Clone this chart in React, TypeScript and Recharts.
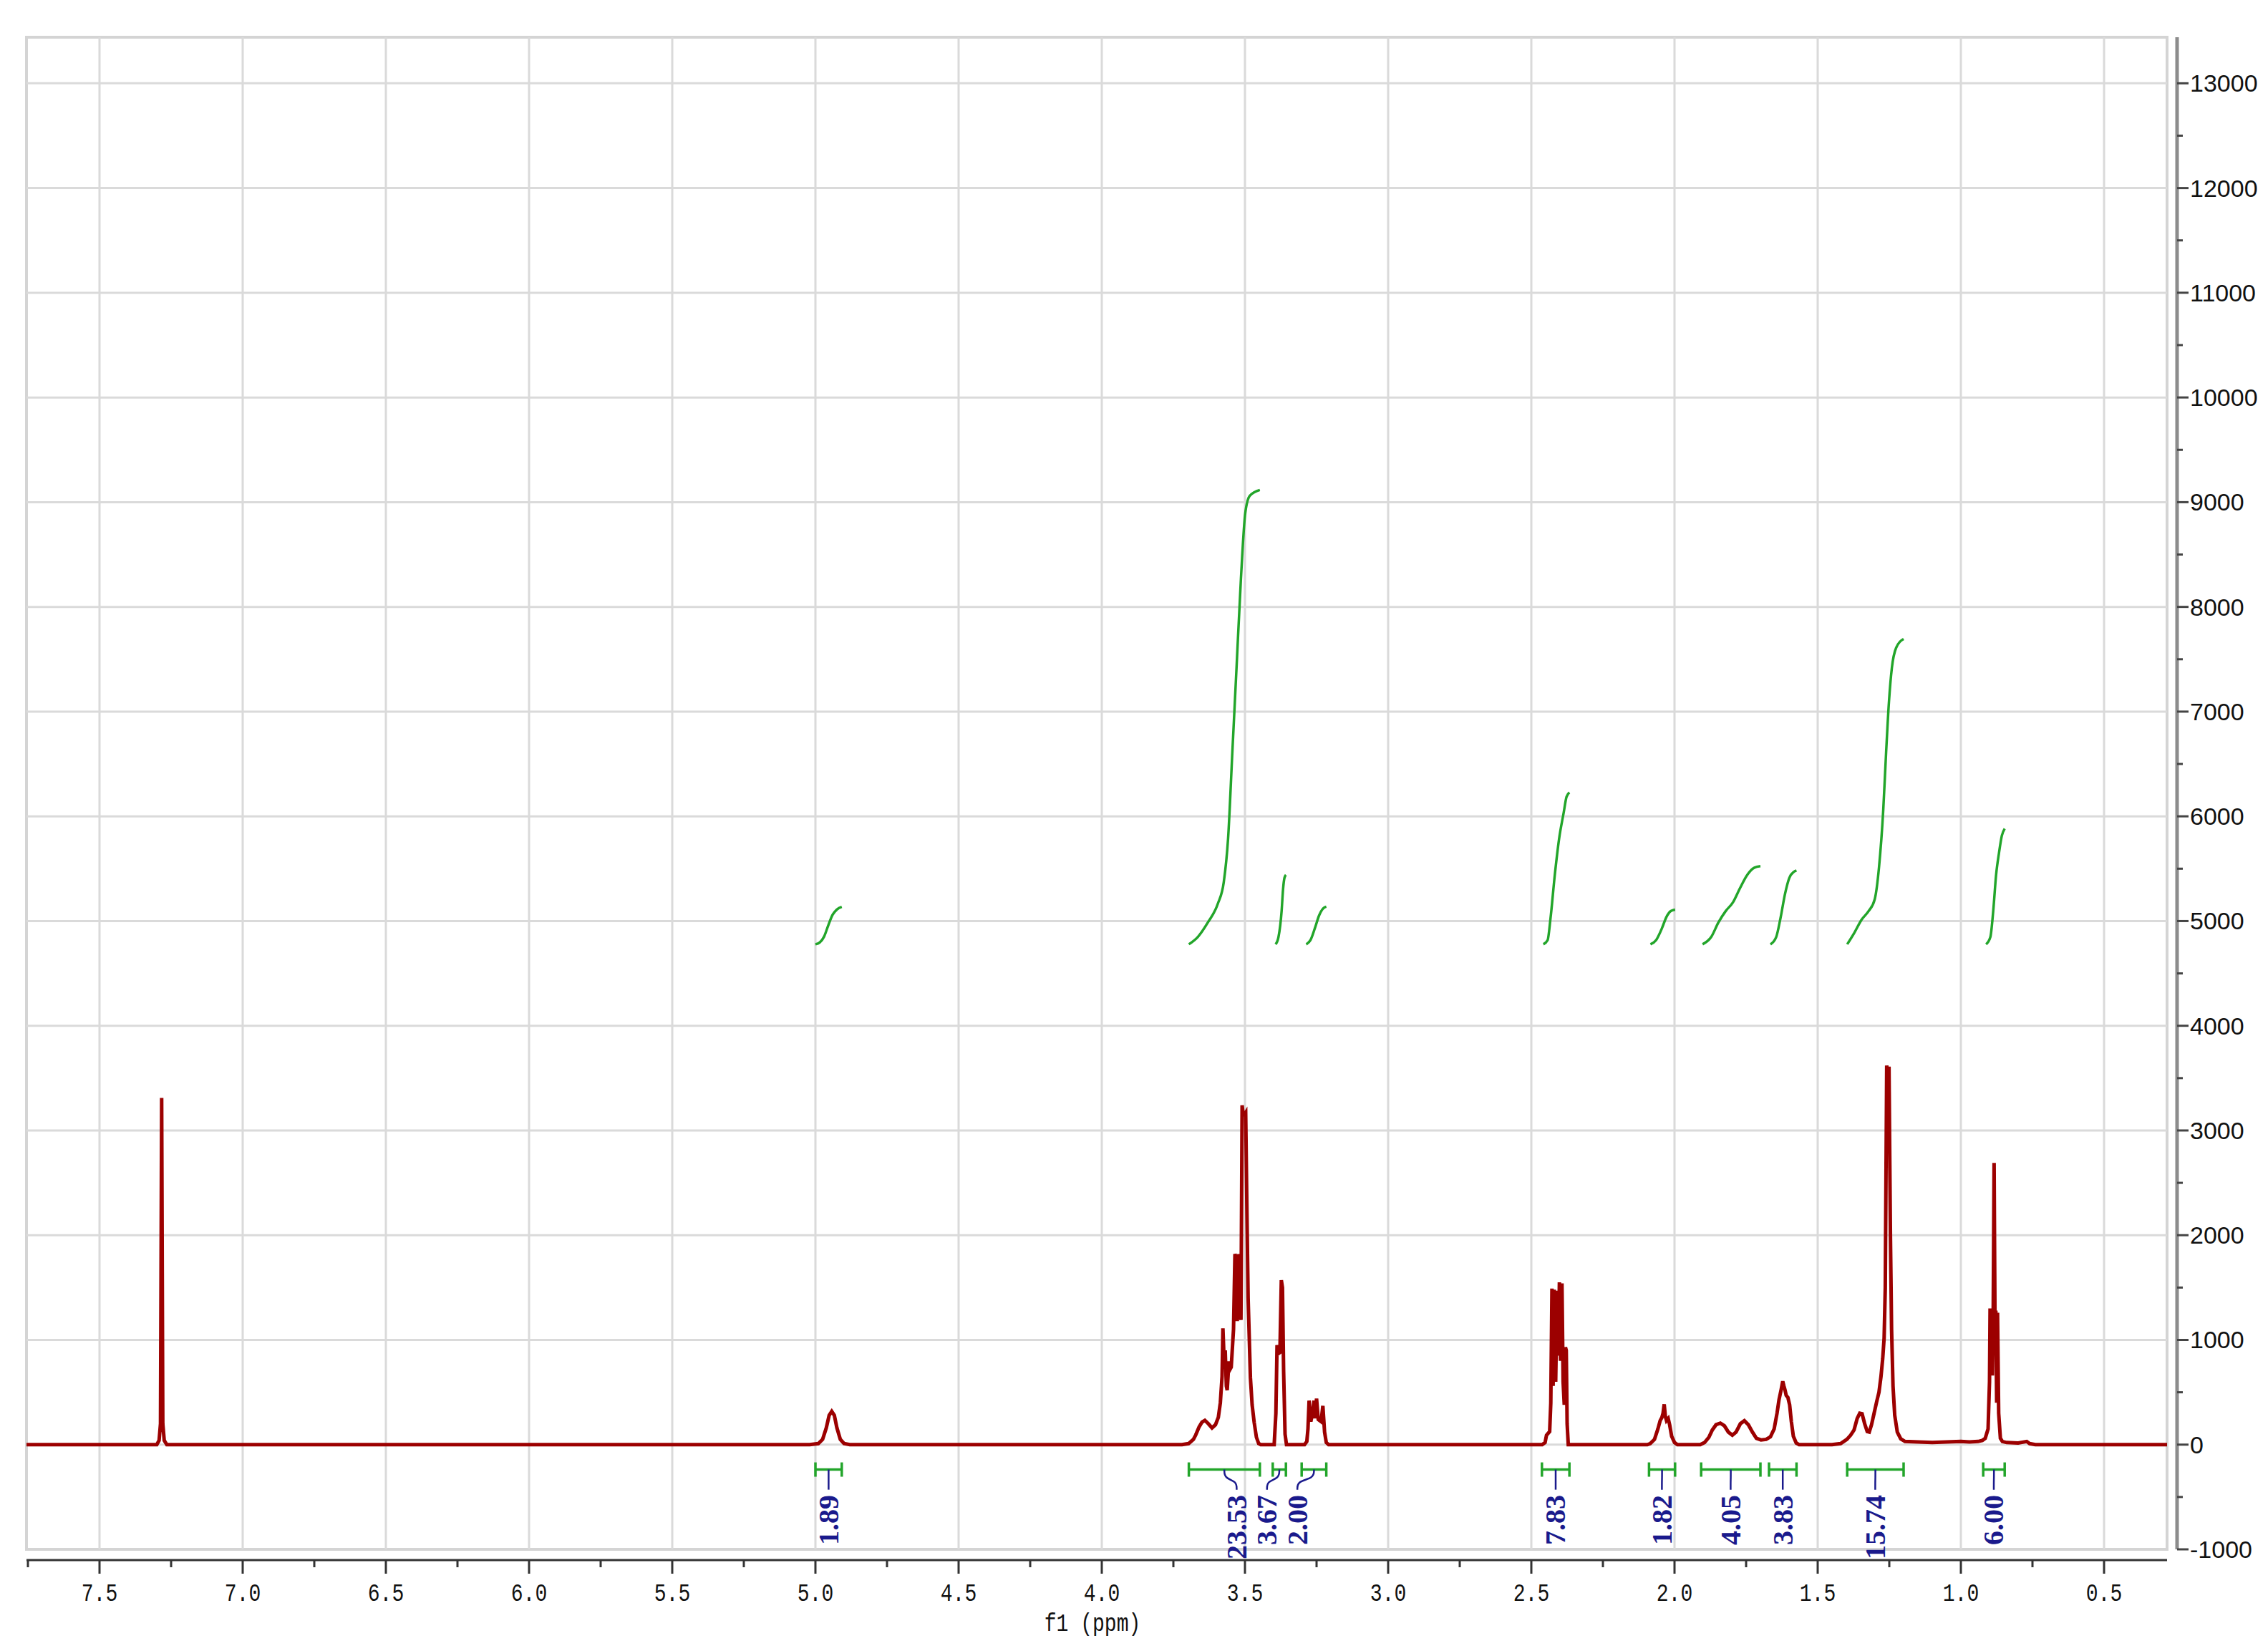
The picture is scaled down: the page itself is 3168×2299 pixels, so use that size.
import React from 'react';
import { ComposedChart, Line, Scatter, XAxis, YAxis, ReferenceLine, ReferenceArea, Label } from 'recharts';

// axes
const X_DOMAIN: [number, number] = [0.28, 7.755];
const Y_DOMAIN: [number, number] = [-1000, 13440];
const X_TICKS = [7.75, 7.5, 7.25, 7.0, 6.75, 6.5, 6.25, 6.0, 5.75, 5.5, 5.25, 5.0, 4.75, 4.5, 4.25, 4.0, 3.75, 3.5, 3.25, 3.0, 2.75, 2.5, 2.25, 2.0, 1.75, 1.5, 1.25, 1.0, 0.75, 0.5];
const X_GRID = [7.5, 7.0, 6.5, 6.0, 5.5, 5.0, 4.5, 4.0, 3.5, 3.0, 2.5, 2.0, 1.5, 1.0, 0.5];
const Y_TICKS = [-1000, -500, 0, 500, 1000, 1500, 2000, 2500, 3000, 3500, 4000, 4500, 5000, 5500, 6000, 6500, 7000, 7500, 8000, 8500, 9000, 9500, 10000, 10500, 11000, 11500, 12000, 12500, 13000];
const Y_GRID = [0, 1000, 2000, 3000, 4000, 5000, 6000, 7000, 8000, 9000, 10000, 11000, 12000, 13000];

// 1H spectrum, [ppm, intensity]
const SPECTRUM = [
  [7.755, 0], [7.3, 0], [7.292, 40], [7.287, 200], [7.283, 3310], [7.279, 200], [7.274, 40], [7.265, 0],
  [5.02, 0], [4.99, 10], [4.975, 50], [4.962, 160], [4.952, 280], [4.943, 317], [4.934, 280], [4.925, 160], [4.913, 50], [4.9, 10], [4.88, 0],
  [3.72, 0], [3.697, 10], [3.68, 50], [3.672, 92], [3.66, 170], [3.65, 215], [3.64, 232], [3.628, 200], [3.615, 160], [3.603, 190], [3.593, 260],
  [3.586, 400], [3.58, 650], [3.577, 1110], [3.573, 820], [3.569, 900], [3.565, 560], [3.562, 520], [3.556, 795], [3.552, 720], [3.548, 740],
  [3.54, 1100], [3.535, 1820], [3.531, 1790], [3.527, 1180], [3.524, 1500], [3.521, 1820], [3.517, 1400], [3.514, 1190], [3.51, 3240],
  [3.506, 3150], [3.502, 3150], [3.4975, 3170], [3.493, 2200], [3.489, 1400], [3.481, 640], [3.475, 380], [3.468, 215], [3.46, 70], [3.452, 10], [3.445, 0],
  [3.398, 0], [3.392, 300], [3.388, 950], [3.383, 870], [3.378, 880], [3.373, 1570], [3.369, 1500], [3.365, 700], [3.36, 100], [3.355, 0],
  [3.292, 0], [3.284, 30], [3.28, 150], [3.276, 420], [3.27, 220], [3.264, 300], [3.259, 420], [3.255, 250], [3.25, 440], [3.244, 240],
  [3.234, 220], [3.228, 370], [3.222, 120], [3.216, 20], [3.208, 0],
  [2.462, 0], [2.452, 20], [2.447, 90], [2.436, 125], [2.432, 400], [2.428, 1490], [2.424, 560], [2.42, 1480], [2.415, 600], [2.41, 1470],
  [2.406, 850], [2.402, 1550], [2.398, 800], [2.393, 1540], [2.389, 600], [2.385, 380], [2.381, 930], [2.378, 900], [2.375, 200], [2.371, 0],
  [2.095, 0], [2.085, 10], [2.07, 50], [2.058, 150], [2.05, 230], [2.044, 260], [2.04, 300], [2.036, 385], [2.032, 270], [2.028, 230],
  [2.022, 250], [2.017, 190], [2.01, 80], [2.0, 20], [1.99, 0],
  [1.91, 0], [1.895, 20], [1.88, 70], [1.868, 140], [1.855, 190], [1.84, 205], [1.826, 180], [1.812, 120], [1.798, 90], [1.785, 120],
  [1.77, 200], [1.756, 228], [1.742, 190], [1.728, 120], [1.714, 60], [1.698, 45], [1.68, 50], [1.665, 75], [1.652, 150], [1.642, 300],
  [1.635, 430], [1.628, 520], [1.622, 605], [1.618, 560], [1.614, 520], [1.61, 470], [1.604, 450], [1.598, 380], [1.592, 220], [1.585, 80],
  [1.575, 15], [1.565, 0],
  [1.45, 0], [1.42, 10], [1.398, 50], [1.385, 90], [1.373, 140], [1.362, 250], [1.353, 300], [1.345, 295], [1.336, 200], [1.327, 125],
  [1.32, 120], [1.312, 190], [1.303, 300], [1.294, 410], [1.286, 500], [1.279, 650], [1.273, 820], [1.268, 1020], [1.264, 1500], [1.259, 3620],
  [1.255, 3480], [1.251, 3610], [1.246, 2000], [1.242, 1100], [1.237, 560], [1.231, 280], [1.222, 120], [1.21, 55], [1.195, 30], [1.15, 25],
  [1.1, 20], [1.05, 25], [1.0, 30], [0.97, 25], [0.94, 30], [0.925, 40],
  [0.915, 60], [0.905, 150], [0.9, 600], [0.898, 1300], [0.895, 700], [0.893, 1290], [0.89, 660], [0.887, 1300], [0.884, 2690], [0.881, 1250],
  [0.878, 1280], [0.875, 400], [0.872, 1260], [0.868, 300], [0.862, 60], [0.855, 30], [0.84, 20], [0.8, 15], [0.77, 30], [0.76, 10], [0.74, 0], [0.28, 0],
];

// integral curves (green), [ppm, height]
const INTEGRAL_CURVES = [
  [[5.0, 4778], [4.985, 4795], [4.97, 4850], [4.955, 4960], [4.94, 5060], [4.925, 5110], [4.908, 5135]],
  [[3.696, 4778], [3.665, 4847], [3.63, 4985], [3.595, 5164], [3.574, 5372], [3.559, 5786], [3.544, 6615], [3.529, 7444], [3.514, 8273], [3.499, 8895], [3.483, 9061], [3.448, 9116]],
  [[3.393, 4778], [3.383, 4847], [3.372, 5096], [3.367, 5303], [3.362, 5413], [3.357, 5441]],
  [[3.286, 4778], [3.271, 4819], [3.256, 4930], [3.241, 5054], [3.226, 5123], [3.216, 5137]],
  [[2.458, 4778], [2.443, 4819], [2.433, 5026], [2.418, 5441], [2.403, 5786], [2.387, 6035], [2.377, 6187], [2.367, 6228]],
  [[2.084, 4778], [2.064, 4819], [2.044, 4930], [2.028, 5040], [2.013, 5095], [1.998, 5109]],
  [[1.902, 4778], [1.872, 4847], [1.847, 4985], [1.821, 5096], [1.796, 5178], [1.771, 5316], [1.746, 5441], [1.721, 5510], [1.7, 5524]],
  [[1.665, 4778], [1.645, 4847], [1.63, 5026], [1.614, 5261], [1.599, 5413], [1.584, 5468], [1.574, 5482]],
  [[1.397, 4778], [1.372, 4888], [1.347, 5012], [1.322, 5096], [1.301, 5206], [1.286, 5510], [1.271, 6063], [1.261, 6615], [1.251, 7099], [1.241, 7417], [1.226, 7610], [1.2, 7693]],
  [[0.912, 4778], [0.897, 4847], [0.887, 5096], [0.877, 5441], [0.867, 5648], [0.857, 5814], [0.847, 5883]],
];

// integration ranges, values and label positions
const INTEGRAL_RANGES = [[5.0, 4.908], [3.696, 3.448], [3.403, 3.357], [3.302, 3.216], [2.463, 2.367], [2.089, 1.998], [1.907, 1.7], [1.67, 1.574], [1.397, 1.2], [0.922, 0.847]];
const INTEGRAL_VALUES = ['1.89', '23.53', '3.67', '2.00', '7.83', '1.82', '4.05', '3.83', '15.74', '6.00'];
const LABEL_PPM = [4.954, 3.529, 3.423, 3.317, 2.415, 2.044, 1.804, 1.622, 1.299, 0.885];
const BRACKET_Y = -238;
const CONNECT_END_Y = -430;
const LABEL_Y = -480;

const SPEC_COLOR = '#9c0000';
const INT_COLOR = '#22a52a';
const LABEL_COLOR = '#1a1a8c';
const GRID_COLOR = '#dadada';

const spectrumData = SPECTRUM.map(([x, y]) => ({ x, y }));
const curveData = INTEGRAL_CURVES.map((c) => c.map(([x, y]) => ({ x, y })));
const bracketData = INTEGRAL_RANGES.map(([a, b]) => [{ x: a, y: BRACKET_Y }, { x: b, y: BRACKET_Y }]);
const connectorData = INTEGRAL_RANGES.map(([a, b], i) => {
  const c = (a + b) / 2;
  const l = LABEL_PPM[i];
  return [{ x: c, y: BRACKET_Y }, { x: c, y: -320 }, { x: l, y: -350 }, { x: l, y: CONNECT_END_Y }];
});
const labelData = LABEL_PPM.map((x, i) => ({ x, y: LABEL_Y, text: INTEGRAL_VALUES[i] }));

const MONO = "'Liberation Mono', monospace";

const XTick = (props: any) => {
  const { x, y, payload } = props;
  const v = payload.value;
  const major = Math.abs(v * 2 - Math.round(v * 2)) < 1e-6;
  return (
    <g>
      <line x1={x} x2={x} y1={y + 15} y2={y + (major ? 34 : 25)} stroke="#333" strokeWidth={3} />
      {major && (
        <text transform={`translate(${x} ${y + 63}) scale(0.78 1)`} x={0} y={0} textAnchor="middle" dominantBaseline="central"
          fontFamily={MONO} fontSize={36} fill="#111">
          {v.toFixed(1)}
        </text>
      )}
    </g>
  );
};

const YTick = (props: any) => {
  const { x, y, payload } = props;
  const v = payload.value;
  const major = v % 1000 === 0;
  return (
    <g>
      <line x1={x + 14} x2={x + (major ? 30 : 22)} y1={y} y2={y} stroke="#444" strokeWidth={3} />
      {major && (
        <text x={x + 32} y={y} dominantBaseline="central"
          fontFamily="'Liberation Sans', sans-serif" fontSize={34} fill="#111">
          {v}
        </text>
      )}
    </g>
  );
};

const Cap = (props: any) => {
  const { cx, cy, index } = props;
  return <line key={`cap-${index}`} x1={cx} x2={cx} y1={cy - 10} y2={cy + 10} stroke={INT_COLOR} strokeWidth={3.5} />;
};

const IntegralText = (props: any) => {
  const { cx, cy, payload } = props;
  return (
    <text x={cx} y={cy} transform={`rotate(-90 ${cx} ${cy})`} textAnchor="end" dominantBaseline="central"
      fontFamily="'Liberation Serif', serif" fontWeight="bold" fontSize={40} fill={LABEL_COLOR}>
      {payload.text}
    </text>
  );
};

const AxisTitle = (props: any) => {
  const { viewBox } = props;
  const cx = viewBox.x + viewBox.width / 2 - 6;
  const cy = viewBox.y + 105;
  return (
    <text transform={`translate(${cx} ${cy}) scale(0.78 1)`} x={0} y={0} textAnchor="middle" dominantBaseline="central"
      fontFamily={MONO} fontSize={36} fill="#111">
      f1 (ppm)
    </text>
  );
};

export default function App() {
  return (
    <div style={{ position: 'absolute', left: 0, top: 0, background: '#fff' }}>
      <ComposedChart width={3168} height={2299} margin={{ top: 52, right: 0, bottom: 0, left: 37 }}>
        <XAxis type="number" dataKey="x" domain={X_DOMAIN} reversed ticks={X_TICKS} interval={0}
          height={135} tick={XTick} tickLine={false} tickSize={0} tickMargin={0}
          axisLine={{ stroke: '#333', strokeWidth: 3, transform: 'translate(0 15)' }}>
          <Label content={AxisTitle} />
        </XAxis>
        <YAxis type="number" dataKey="y" orientation="right" domain={Y_DOMAIN} ticks={Y_TICKS} interval={0}
          width={141} tick={YTick} tickLine={false} tickSize={0} tickMargin={0}
          axisLine={{ stroke: '#8c8c8c', strokeWidth: 5, transform: 'translate(14 0)' }} />

        {X_GRID.map((v) => (
          <ReferenceLine key={`gx-${v}`} x={v} stroke={GRID_COLOR} strokeWidth={3} />
        ))}
        {Y_GRID.map((v) => (
          <ReferenceLine key={`gy-${v}`} y={v} stroke={GRID_COLOR} strokeWidth={3} />
        ))}
        <ReferenceArea x1={X_DOMAIN[1]} x2={X_DOMAIN[0]} y1={Y_DOMAIN[0]} y2={Y_DOMAIN[1]} fill="none" fillOpacity={0} stroke="#d4d4d4" strokeWidth={4} />

        <Line data={spectrumData} dataKey="y" type="linear" stroke={SPEC_COLOR} strokeWidth={5} dot={false} isAnimationActive={false} />

        {curveData.map((d, i) => (
          <Line key={`int-${i}`} data={d} dataKey="y" type="monotone" stroke={INT_COLOR} strokeWidth={3.5} dot={false} isAnimationActive={false} />
        ))}
        {bracketData.map((d, i) => (
          <Line key={`br-${i}`} data={d} dataKey="y" type="linear" stroke={INT_COLOR} strokeWidth={3.5} dot={Cap} isAnimationActive={false} />
        ))}
        {connectorData.map((d, i) => (
          <Line key={`cn-${i}`} data={d} dataKey="y" type="basis" stroke={LABEL_COLOR} strokeWidth={2.5} dot={false} isAnimationActive={false} />
        ))}
        <Scatter data={labelData} dataKey="y" shape={IntegralText} isAnimationActive={false} />
      </ComposedChart>
    </div>
  );
}
